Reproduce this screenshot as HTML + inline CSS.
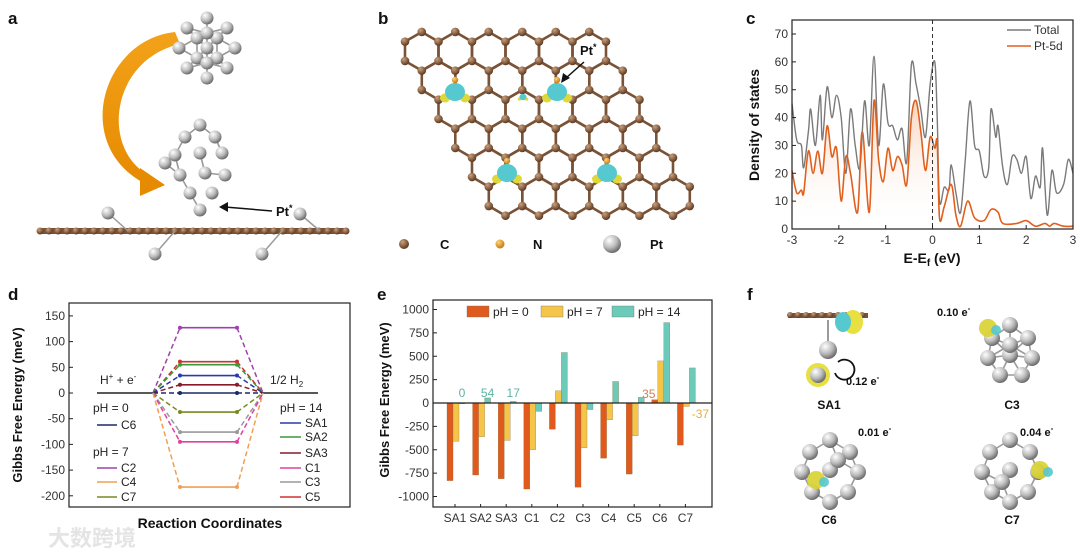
<!DOCTYPE html>
<html><head><meta charset="utf-8">
<style>
html,body{margin:0;padding:0;background:#fff;}
svg{display:block;font-family:"Liberation Sans","Noto Sans CJK SC",sans-serif;}
</style></head>
<body>
<svg id="fig" width="1080" height="554" viewBox="0 0 1080 554" xmlns="http://www.w3.org/2000/svg">
<defs>
<radialGradient id="ptg" cx="35%" cy="30%" r="70%"><stop offset="0" stop-color="#ffffff"/><stop offset="0.6" stop-color="#b9b9b9"/><stop offset="1" stop-color="#6d6d6d"/></radialGradient>
<radialGradient id="cg" cx="35%" cy="30%" r="70%"><stop offset="0" stop-color="#c9a07c"/><stop offset="1" stop-color="#5e3a22"/></radialGradient>
<radialGradient id="ng" cx="35%" cy="30%" r="70%"><stop offset="0" stop-color="#ffd27a"/><stop offset="1" stop-color="#c77a10"/></radialGradient>
<linearGradient id="dosfill" x1="0" y1="0" x2="0" y2="1"><stop offset="0" stop-color="#f08040" stop-opacity="0.35"/><stop offset="1" stop-color="#ffffff" stop-opacity="0"/></linearGradient>
<linearGradient id="arcg" x1="0" y1="0" x2="0" y2="1"><stop offset="0" stop-color="#f2a21a"/><stop offset="1" stop-color="#e68a00"/></linearGradient>
</defs>

<g font-weight="bold" font-size="17" fill="#111">
<text x="8" y="24">a</text>
<text x="378" y="24">b</text>
<text x="746" y="24">c</text>
<text x="8" y="300">d</text>
<text x="377" y="300">e</text>
<text x="747" y="300">f</text>
</g>

<g id="pa"></g>
<g id="pb"></g>
<g id="pc"></g>
<g id="pd"></g>
<g id="pe"></g>
<g id="pf"></g>

<text x="48" y="546" font-size="22" fill="#e4e4e4" font-weight="bold">大数跨境</text>
</svg>

<script>
// ---------- Panel c data ----------
const dosTotalE = [-3.0,-2.9,-2.8,-2.75,-2.65,-2.6,-2.5,-2.4,-2.35,-2.25,-2.15,-2.05,-1.95,-1.85,-1.75,-1.65,-1.55,-1.45,-1.35,-1.25,-1.15,-1.05,-0.95,-0.85,-0.75,-0.65,-0.55,-0.45,-0.35,-0.25,-0.15,-0.05,0.05,0.1,0.15,0.25,0.35,0.4,0.5,0.6,0.7,0.8,0.9,1.0,1.1,1.2,1.25,1.35,1.4,1.5,1.6,1.7,1.8,1.9,2.0,2.1,2.2,2.3,2.35,2.45,2.55,2.65,2.8,2.9,3.0];
const dosTotalV = [45,32,30,22,35,43,30,48,32,51,40,48,40,20,43,30,22,46,30,62,30,52,38,37,32,36,24,59,52,43,33,52,60,40,10,15,14,23,13,6,25,46,30,28,19,22,43,33,37,22,16,26,25,20,26,11,19,15,29,5,21,13,16,25,20];
const dosPtE = [-3.0,-2.9,-2.8,-2.75,-2.65,-2.55,-2.45,-2.35,-2.25,-2.15,-2.05,-1.95,-1.85,-1.75,-1.6,-1.5,-1.35,-1.25,-1.15,-1.05,-0.95,-0.85,-0.75,-0.65,-0.55,-0.45,-0.35,-0.25,-0.15,-0.05,0.05,0.1,0.15,0.25,0.4,0.5,0.6,0.75,0.9,1.1,1.25,1.4,1.5,1.8,2.0,2.2,2.4,2.5,2.6,2.8,3.0];
const dosPtV = [21,13,14,13,28,20,28,20,37,26,29,10,26,20,6,35,6,46,25,17,29,21,26,23,16,40,46,35,21,33,29,31,4,8,16,5,1,10,4,3,7,6,2,2,3,1,2,1,2,1,1];
const dosXTicks = [-3,-2,-1,0,1,2,3];
const dosYTicks = [0,10,20,30,40,50,60,70];

// ---------- Panel d data ----------
const levelNames = ["C2","C5","SA2","SA1","SA3","C6","C7","C3","C1","C4"];
const levelValues = [127,61,55,34,16,0,-37,-76,-95,-183];
const levelColors = ["#a040b0","#d03030","#3a9a3a","#2a3aa8","#8a1a2a","#1a2a6a","#7a8a20","#9a9a9a","#e040a0","#f0a050"];
const dYTicks = [-200,-150,-100,-50,0,50,100,150];

// ---------- Panel e data ----------
const barCats = ["SA1","SA2","SA3","C1","C2","C3","C4","C5","C6","C7"];
const barPh0 = [-830,-770,-810,-920,-280,-900,-590,-760,35,-450];
const barPh7 = [-410,-360,-400,-500,130,-480,-180,-350,450,-37];
const barPh14 = [0,54,17,-90,540,-70,230,60,860,375];
const eYTicks = [-1000,-750,-500,-250,0,250,500,750,1000];

const NS="http://www.w3.org/2000/svg";
function mk(parent,tag,attrs,text){const e=document.createElementNS(NS,tag);for(const k in attrs)e.setAttribute(k,attrs[k]);if(text!==undefined)e.textContent=text;parent.appendChild(e);return e;}
function smoothPath(P){
  let d='M'+P[0][0].toFixed(1)+','+P[0][1].toFixed(1);
  for(let i=0;i<P.length-1;i++){
    const p0=P[Math.max(i-1,0)],p1=P[i],p2=P[i+1],p3=P[Math.min(i+2,P.length-1)];
    const c1=[p1[0]+(p2[0]-p0[0])/6,p1[1]+(p2[1]-p0[1])/6];
    const c2=[p2[0]-(p3[0]-p1[0])/6,p2[1]-(p3[1]-p1[1])/6];
    d+=' C'+c1[0].toFixed(1)+','+c1[1].toFixed(1)+' '+c2[0].toFixed(1)+','+c2[1].toFixed(1)+' '+p2[0].toFixed(1)+','+p2[1].toFixed(1);
  }
  return d;
}

// ===== Panel c =====
(function(){
  const g=document.getElementById('pc');
  const x0=792,x1=1073,yT=20,yB=229;
  const sx=e=>x0+(e+3)/6*(x1-x0);
  const sy=v=>yB-v/70*(yB-34);
  const ptP=dosPtE.map((e,i)=>[sx(e),sy(dosPtV[i])]);
  const totP=dosTotalE.map((e,i)=>[sx(e),sy(dosTotalV[i])]);
  const ptD=smoothPath(ptP);
  const fill=mk(g,'path',{d:ptD+' L'+sx(3)+','+yB+' L'+sx(-3)+','+yB+' Z',fill:'url(#dosfill)'});
  
  
  const tot=mk(g,'path',{d:smoothPath(totP),fill:'none',stroke:'#7a7a7a','stroke-width':1.4,'stroke-linejoin':'round'});
  
  
  const pt=mk(g,'path',{d:ptD,fill:'none',stroke:'#e0601e','stroke-width':1.6,'stroke-linejoin':'round'});
  
  
  const fl=mk(g,'line',{x1:sx(0),x2:sx(0),y1:yT,y2:yB,stroke:'#333','stroke-dasharray':'4,3','stroke-width':1});
  
  
  const box=mk(g,'rect',{x:x0,y:yT,width:x1-x0,height:yB-yT,fill:'none',stroke:'#222','stroke-width':1.2});
  
  
  dosXTicks.forEach(t=>{mk(g,'line',{x1:sx(t),x2:sx(t),y1:yB,y2:yB-4,stroke:'#222'});
    const l=mk(g,'text',{x:sx(t),y:yB+15,'font-size':12,'text-anchor':'middle',fill:'#333'},t);
    
    });
  dosYTicks.forEach(t=>{mk(g,'line',{x1:x0,x2:x0+4,y1:sy(t),y2:sy(t),stroke:'#222'});
    const l=mk(g,'text',{x:x0-4,y:sy(t)+4,'font-size':12,'text-anchor':'end',fill:'#333'},t);
    
    });
  const xt=mk(g,'text',{x:932,y:263,'font-size':14,'font-weight':'bold','text-anchor':'middle',fill:'#111'});
  xt.innerHTML='E-E<tspan font-size="10" dy="3">f</tspan><tspan dy="-3"> (eV)</tspan>';
  
  
  const yt=mk(g,'text',{x:0,y:0,'font-size':14,'font-weight':'bold','text-anchor':'middle',fill:'#111',transform:'translate(759,125) rotate(-90)'},'Density of states');
  
  
  [['Total','#7a7a7a',34],['Pt-5d','#e0601e',50]].forEach(([n,c,y])=>{
    const lg=mk(g,'g',{});
    
    
    mk(lg,'line',{x1:1007,x2:1031,y1:y-4,y2:y-4,stroke:c,'stroke-width':1.6});
    mk(lg,'text',{x:1034,y:y,'font-size':12,fill:'#333'},n);
  });
})();

// ===== Panel d =====
(function(){
  const g=document.getElementById('pd');
  const x0=69,x1=350,yT=303,yB=507;
  const sy=v=>393-v*0.514;
  const box=mk(g,'rect',{x:x0,y:yT,width:x1-x0,height:yB-yT,fill:'none',stroke:'#222','stroke-width':1.2});
  
  
  dYTicks.forEach(t=>{mk(g,'line',{x1:x0,x2:x0+4,y1:sy(t),y2:sy(t),stroke:'#222'});
    const l=mk(g,'text',{x:x0-4,y:sy(t)+4,'font-size':12,'text-anchor':'end',fill:'#333'},t);
    
    });
  mk(g,'line',{x1:97,x2:153,y1:sy(0),y2:sy(0),stroke:'#222','stroke-width':1.4});
  mk(g,'line',{x1:263,x2:318,y1:sy(0),y2:sy(0),stroke:'#222','stroke-width':1.4});
  levelValues.forEach((v,i)=>{
    const c=levelColors[i];
    const lg=mk(g,'g',{});
    
    
    mk(lg,'line',{x1:153,y1:sy(0),x2:180,y2:sy(v),stroke:c,'stroke-width':1.5,'stroke-dasharray':'5,3'});
    mk(lg,'line',{x1:237,y1:sy(v),x2:263,y2:sy(0),stroke:c,'stroke-width':1.5,'stroke-dasharray':'5,3'});
    mk(lg,'line',{x1:180,y1:sy(v),x2:237,y2:sy(v),stroke:c,'stroke-width':1.6});
    mk(lg,'circle',{cx:180,cy:sy(v),r:2,fill:c});
    mk(lg,'circle',{cx:237,cy:sy(v),r:2,fill:c});
  });
  const t1=mk(g,'text',{x:100,y:384,'font-size':12,fill:'#222'});
  t1.innerHTML='H<tspan font-size="8" dy="-5">+</tspan><tspan dy="5"> + e</tspan><tspan font-size="8" dy="-5">-</tspan>';
  
  
  const t2=mk(g,'text',{x:270,y:384,'font-size':12,fill:'#222'});
  t2.innerHTML='1/2 H<tspan font-size="8" dy="3">2</tspan>';
  
  
  const legL=[['pH = 0',408,null],['C6',425,'#1a2a6a'],['pH = 7',452,null],['C2',468,'#a040b0'],['C4',482,'#f0a050'],['C7',497,'#7a8a20']];
  const legR=[['pH = 14',408,null],['SA1',423,'#2a3aa8'],['SA2',437,'#3a9a3a'],['SA3',453,'#8a1a2a'],['C1',468,'#e040a0'],['C3',482,'#9a9a9a'],['C5',497,'#d03030']];
  [[legL,93,97,117,121],[legR,280,280,301,305]].forEach(([arr,hx,lx0,lx1,tx])=>{
    arr.forEach(([n,y,c])=>{
      const lg=mk(g,'g',{});
      
      
      if(c===null){mk(lg,'text',{x:hx,y:y+4,'font-size':12,fill:'#222'},n);}
      else{mk(lg,'line',{x1:lx0,x2:lx1,y1:y,y2:y,stroke:c,'stroke-width':1.6});
        mk(lg,'text',{x:tx,y:y+4,'font-size':12,fill:'#222'},n);}
    });
  });
  const xt=mk(g,'text',{x:210,y:528,'font-size':14,'font-weight':'bold','text-anchor':'middle',fill:'#111'},'Reaction Coordinates');
  
  
  const yt=mk(g,'text',{x:0,y:0,'font-size':13,'font-weight':'bold','text-anchor':'middle',fill:'#111',transform:'translate(22,405) rotate(-90)'},'Gibbs Free Energy (meV)');
  
  
})();

// ===== Panel e =====
(function(){
  const g=document.getElementById('pe');
  const x0=433,x1=712,yT=300,yB=507;
  const sy=v=>403-v*0.0935;
  const sx=i=>455+i*25.6;
  const box=mk(g,'rect',{x:x0,y:yT,width:x1-x0,height:yB-yT,fill:'none',stroke:'#222','stroke-width':1.2});
  
  
  eYTicks.forEach(t=>{mk(g,'line',{x1:x0,x2:x0+4,y1:sy(t),y2:sy(t),stroke:'#222'});
    const l=mk(g,'text',{x:x0-4,y:sy(t)+4,'font-size':12,'text-anchor':'end',fill:'#333'},t);
    
    });
  const series=[[barPh0,'#e05a1e',-6,'ph0'],[barPh7,'#f5c54a',0,'ph7'],[barPh14,'#6ccbb8',6,'ph14']];
  barCats.forEach((c,i)=>{
    series.forEach(([arr,col,off,nm])=>{
      const v=arr[i];const y=Math.min(sy(v),sy(0));const h=Math.abs(sy(v)-sy(0));
      const r=mk(g,'rect',{x:sx(i)+off-3+1,y:y,width:6,height:Math.max(h,0.8),fill:col,stroke:'#8a6a40','stroke-width':0.3});
      
      
    });
    mk(g,'line',{x1:sx(i),x2:sx(i),y1:yB,y2:yB-3,stroke:'#222'});
    const l=mk(g,'text',{x:sx(i),y:yB+15,'font-size':12,'text-anchor':'middle',fill:'#333'},c);
    
    
  });
  mk(g,'line',{x1:x0,x2:x1,y1:sy(0),y2:sy(0),stroke:'#222','stroke-width':1.2});
  [0,1,2].forEach(i=>{
    const l=mk(g,'text',{x:sx(i)+7,y:sy(0)-6,'font-size':12,'text-anchor':'middle',fill:'#5ab3a3'},barPh14[i]);
    
    
  });
  const l8=mk(g,'text',{x:sx(8)-11,y:sy(0)-5,'font-size':12,'text-anchor':'middle',fill:'#d08050'},barPh0[8]);
  
  
  const l9=mk(g,'text',{x:sx(9)+15,y:sy(0)+15,'font-size':12,'text-anchor':'middle',fill:'#e0b040'},barPh7[9]);
  
  
  [['pH = 0','#e05a1e',467],['pH = 7','#f5c54a',541],['pH = 14','#6ccbb8',612]].forEach(([n,c,x])=>{
    const lg=mk(g,'g',{});
    
    
    mk(lg,'rect',{x:x,y:306,width:22,height:11,fill:c,stroke:'#777','stroke-width':0.4});
    mk(lg,'text',{x:x+26,y:316,'font-size':12,fill:'#222'},n);
  });
  const yt=mk(g,'text',{x:0,y:0,'font-size':13,'font-weight':'bold','text-anchor':'middle',fill:'#111',transform:'translate(389,400) rotate(-90)'},'Gibbs Free Energy (meV)');
  
  
})();

// ===== Panel b lattice =====
(function(){
  const g=document.getElementById('pb');
  const a=33.5,b=a/Math.sqrt(3);
  const verts=new Map();
  const bonds=mk(g,'g',{stroke:'#7a5236','stroke-width':2.6,fill:'none','stroke-linejoin':'round'});
  for(let i=0;i<6;i++)for(let j=0;j<6;j++){
    const cx=421.75+j*a+i*a/2, cy=51.3+i*a*0.866;
    const vs=[[cx,cy-b],[cx+a/2,cy-b/2],[cx+a/2,cy+b/2],[cx,cy+b],[cx-a/2,cy+b/2],[cx-a/2,cy-b/2]];
    mk(bonds,'polygon',{points:vs.map(v=>v[0].toFixed(1)+','+v[1].toFixed(1)).join(' ')});
    vs.forEach(v=>verts.set(Math.round(v[0])+'_'+Math.round(v[1]),v));
  }
  const atoms=mk(g,'g',{fill:'url(#cg)'});
  verts.forEach(v=>mk(atoms,'circle',{cx:v[0],cy:v[1],r:4.3}));
  [[455,92,1],[557,92,1],[507,173,1],[607,173,1],[523,97,0.35]].forEach(([x,y,s])=>{
    const bl=mk(g,'g',{});
    
    
    mk(bl,'ellipse',{cx:x-10*s,cy:y+6*s,rx:5*s,ry:4.5*s,fill:'#e0d838'});
    mk(bl,'ellipse',{cx:x+10*s,cy:y+6*s,rx:5*s,ry:4.5*s,fill:'#e0d838'});
    mk(bl,'ellipse',{cx:x,cy:y,rx:10*s,ry:9*s,fill:'#55c8d0'});
    if(s===1)mk(bl,'circle',{cx:x,cy:y-12,r:3.2,fill:'url(#ng)'});
  });
  const pl=mk(g,'text',{x:580,y:55,'font-size':13,'font-weight':'bold',fill:'#111'});
  pl.innerHTML='Pt<tspan font-size="9" dy="-5">*</tspan>';
  
  
  mk(g,'line',{x1:584,y1:62,x2:566,y2:78,stroke:'#111','stroke-width':1.5});
  mk(g,'polygon',{points:'561,83 563,73 570,78',fill:'#111'});
  [['url(#cg)',404,5,'C',440],['url(#ng)',500,4.5,'N',533],['url(#ptg)',612,9,'Pt',650]].forEach(([f,x,r,n,tx])=>{
    const lg=mk(g,'g',{});
    
    
    mk(lg,'circle',{cx:x,cy:244,r:r,fill:f});
    mk(lg,'text',{x:tx,y:249,'font-size':13,'font-weight':'bold',fill:'#111'},n);
  });
})();

// ===== Panel a =====
function cluster(g,cx,cy,pts,r){
  const lines=mk(g,'g',{stroke:'#9a9a9a','stroke-width':1.6});
  for(let i=0;i<pts.length;i++)for(let j=i+1;j<pts.length;j++){
    const dx=pts[i][0]-pts[j][0],dy=pts[i][1]-pts[j][1];
    if(Math.hypot(dx,dy)<r*3.2)mk(lines,'line',{x1:cx+pts[i][0],y1:cy+pts[i][1],x2:cx+pts[j][0],y2:cy+pts[j][1]});
  }
  pts.forEach(p=>mk(g,'circle',{cx:cx+p[0],cy:cy+p[1],r:r,fill:'url(#ptg)'}));
}
(function(){
  const g=document.getElementById('pa');
  const arc=mk(g,'path',{d:'M175,32 C100,40 70,150 150,186 L150,176 C100,150 110,60 180,44 Z',fill:'url(#arcg)'});
  
  
  mk(g,'polygon',{points:'140,168 165,185 140,196',fill:'#e68a00'});
  const top=[[0,-30],[-20,-20],[20,-20],[-28,0],[28,0],[0,0],[-10,-10],[10,-10],[-20,20],[20,20],[0,30],[-10,10],[10,10],[0,-15],[0,15]];
  const c1=mk(g,'g',{});
  
  
  cluster(c1,207,48,top,6.5);
  const sh=mk(g,'g',{});
  
  
  mk(sh,'rect',{x:38,y:228,width:310,height:6,fill:'#7a5236'});
  for(let x=40;x<348;x+=9)mk(sh,'circle',{cx:x,cy:231,r:3.5,fill:'url(#cg)'});
  const mid=[[0,-40],[-15,-28],[15,-28],[-25,-10],[0,-12],[22,-12],[-20,10],[5,8],[25,10],[-10,28],[12,28],[0,45],[-35,-2]];
  const c2=mk(g,'g',{});
  
  
  cluster(c2,200,165,mid,6.5);
  [[108,213],[155,254],[262,254],[300,214]].forEach(p=>{mk(g,'line',{x1:p[0],y1:p[1],x2:p[0]+20,y2:231,stroke:'#9a9a9a','stroke-width':1.5});mk(g,'circle',{cx:p[0],cy:p[1],r:6.5,fill:'url(#ptg)'});});
  const pl=mk(g,'text',{x:276,y:216,'font-size':13,'font-weight':'bold',fill:'#111'});
  pl.innerHTML='Pt<tspan font-size="9" dy="-5">*</tspan>';
  
  
  mk(g,'line',{x1:272,y1:211,x2:225,y2:207,stroke:'#111','stroke-width':1.5});
  mk(g,'polygon',{points:'219,207 228,202 228,212',fill:'#111'});
})();

// ===== Panel f =====
(function(){
  const g=document.getElementById('pf');
  const items=[
    [830,345,'SA1','0.12 e',846,385,[[0,0],[15,22]]],
    [1010,350,'C3','0.10 e',937,316,[[0,-25],[-18,-12],[18,-12],[-22,8],[0,5],[22,8],[-10,25],[12,25],[0,-5]]],
    [830,470,'C6','0.01 e',858,436,[[0,-30],[-20,-18],[20,-18],[-28,2],[0,0],[28,2],[-18,22],[18,22],[0,32],[8,-10]]],
    [1010,470,'C7','0.04 e',1020,436,[[0,-30],[-20,-18],[20,-18],[-28,2],[0,0],[28,2],[-18,22],[18,22],[0,32],[-8,12]]]
  ];
  items.forEach(([cx,cy,name,q,qx,qy,pts],k)=>{
    const sg=mk(g,'g',{});
    
    
    if(k===0){
      mk(sg,'rect',{x:788,y:313,width:80,height:5,fill:'#7a5236'});
      for(let x=790;x<868;x+=8)mk(sg,'circle',{cx:x,cy:315,r:3,fill:'url(#cg)'});
      mk(sg,'ellipse',{cx:853,cy:322,rx:10,ry:12,fill:'#e8e040'});
      mk(sg,'ellipse',{cx:843,cy:322,rx:8,ry:10,fill:'#55c8d0'});
      mk(sg,'ellipse',{cx:818,cy:375,rx:12,ry:12,fill:'#e8e040'});
      mk(sg,'line',{x1:828,y1:320,x2:828,y2:348,stroke:'#9a9a9a','stroke-width':2});
      mk(sg,'circle',{cx:828,cy:350,r:9,fill:'url(#ptg)'});
      mk(sg,'circle',{cx:818,cy:375,r:8,fill:'url(#ptg)'});
      mk(sg,'path',{d:'M835,373 A10,10 0 1,0 838,362',fill:'none',stroke:'#111','stroke-width':1.8});
    } else {
      cluster(sg,cx,cy,pts,8);
      const p=k===1?[-22,-22]:k===2?[-14,10]:[30,0];
      mk(sg,'ellipse',{cx:cx+p[0],cy:cy+p[1],rx:9,ry:9,fill:'#d8d030',opacity:0.9});
      mk(sg,'ellipse',{cx:cx+p[0]+8,cy:cy+p[1]+2,rx:5,ry:5,fill:'#55c8d0',opacity:0.9});
    }
    const lt=mk(g,'text',{x:k%2===0?829:1012,y:k<2?409:524,'font-size':12,'font-weight':'bold','text-anchor':'middle',fill:'#111'},name);
    
    
    const qt=mk(g,'text',{x:qx,y:qy,'font-size':11,'font-weight':'bold',fill:'#111'});
    qt.innerHTML=q+'<tspan font-size="8" dy="-5">-</tspan>';
    
    
  });
})();
</script>
</body></html>
